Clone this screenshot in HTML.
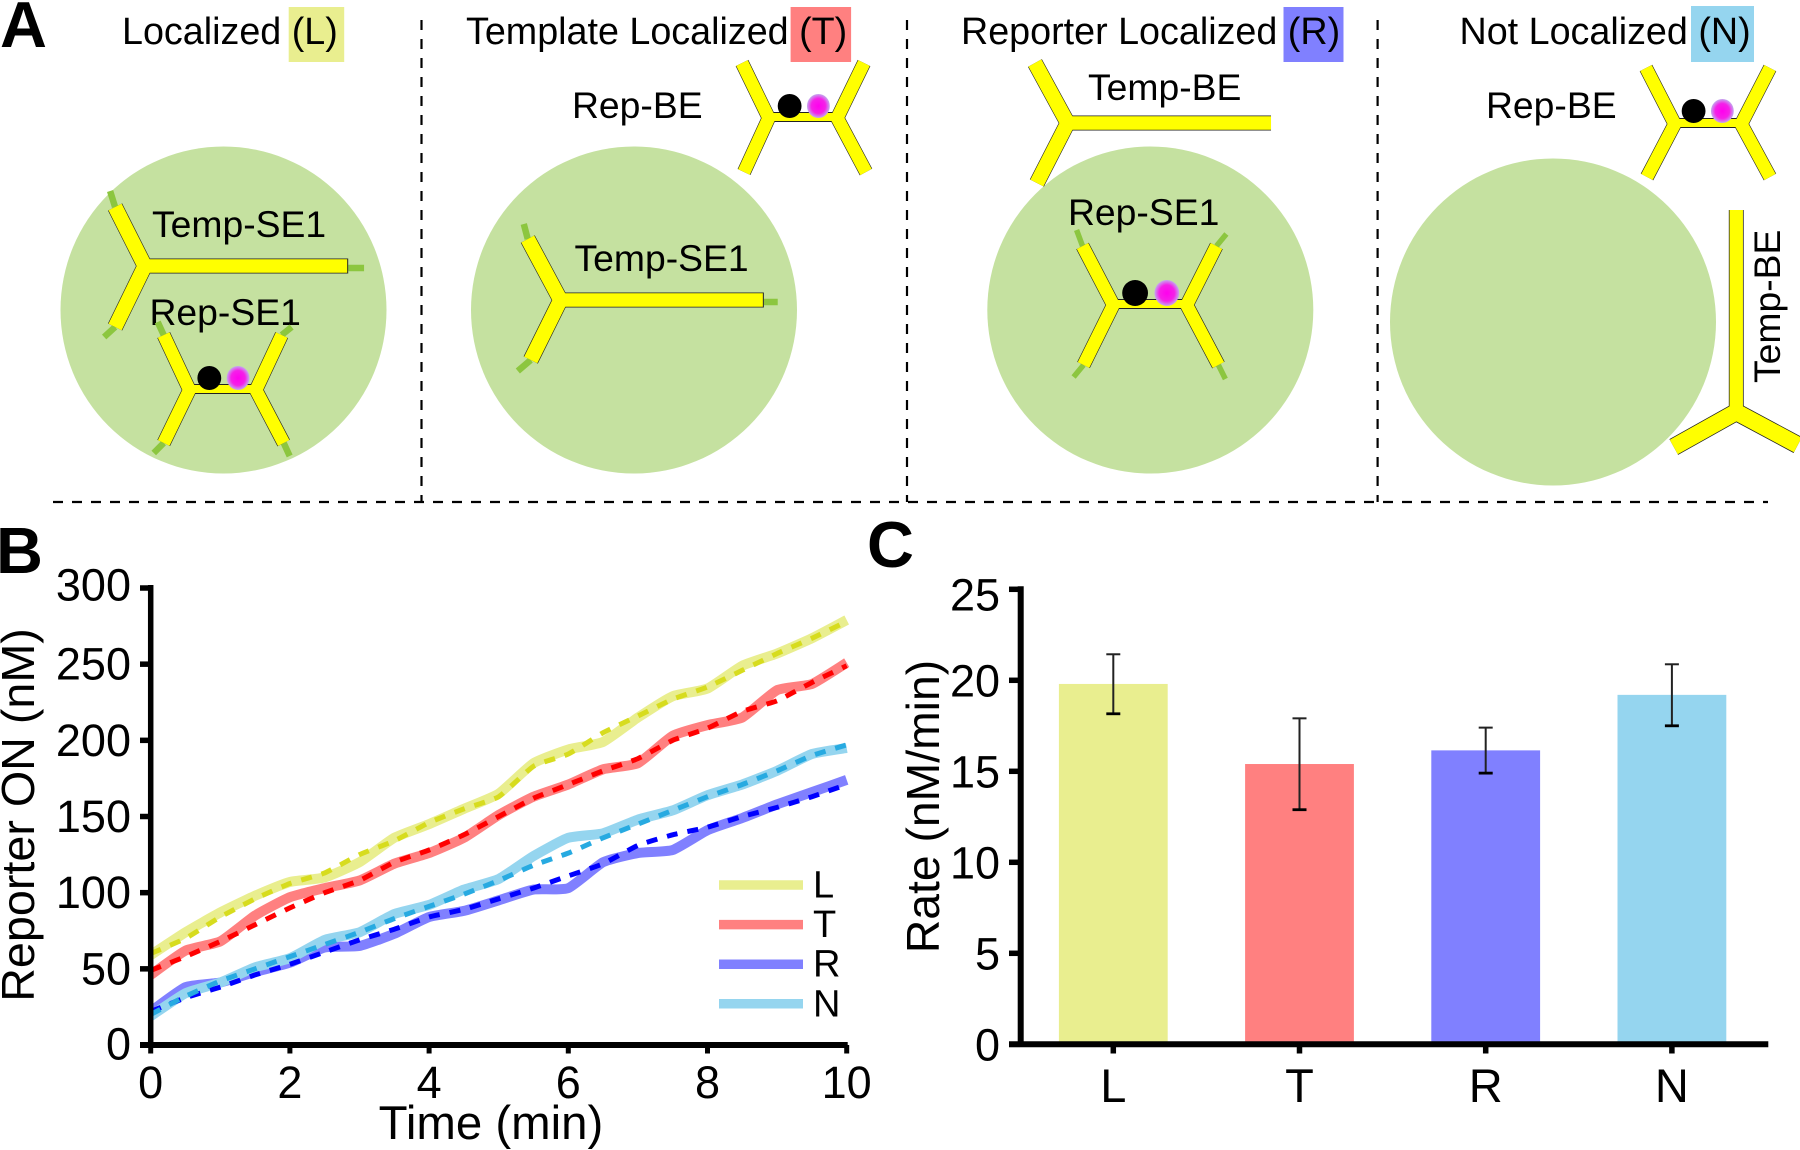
<!DOCTYPE html>
<html lang="en">
<head>
<meta charset="utf-8">
<title>Localization schematic and reporter kinetics</title>
<style>
  html,body{margin:0;padding:0;background:#fff;}
  svg{display:block;font-family:"Liberation Sans",Arial,sans-serif;}
  .lbl{font-size:37.3px;fill:#000;}
  .ttl{font-size:37.7px;fill:#000;}
  .panel{font-size:65px;font-weight:bold;fill:#000;}
  .tail{fill:none;stroke:#8cc63f;stroke-width:6.5;}
  .ol{fill:none;stroke:#222;stroke-linejoin:miter;stroke-miterlimit:4;}
  .yf{fill:none;stroke:#ffff00;stroke-linejoin:miter;stroke-miterlimit:4;}
  .w13{stroke-width:13.5;} .w15{stroke-width:15;}
  .a-o{stroke-width:16;} .a-f{stroke-width:14.8;}
  .w10{stroke-width:13;} .w12{stroke-width:14.2;}
  .bar-o{fill:none;stroke:#222;stroke-width:10;}
  .bar-f{fill:none;stroke:#ffff00;stroke-width:8;}
  .sep{stroke:#000;stroke-width:2.2;stroke-dasharray:10 9;fill:none;}
</style>
</head>
<body>
<svg id="fig" xmlns="http://www.w3.org/2000/svg" width="1800" height="1150" viewBox="0 0 1800 1150">
  <defs>
    <radialGradient id="mag"><stop offset="0" stop-color="#ff00ee"/><stop offset="0.62" stop-color="#f520e8"/><stop offset="1" stop-color="#c4a8ee"/></radialGradient>
  </defs>
  <rect width="1800" height="1150" fill="#fff"/>

  <g>
    <text class="panel" x="0" y="47">A</text>

    <line class="sep" x1="421.5" y1="20" x2="421.5" y2="502"/>
    <line class="sep" x1="907" y1="20" x2="907" y2="502"/>
    <line class="sep" x1="1377.6" y1="20" x2="1377.6" y2="502"/>
    <line class="sep" x1="53" y1="502" x2="1768" y2="502"/>

    <rect x="288.7" y="7" width="55.5" height="55" fill="#e9ee8f"/>
    <rect x="790.6" y="7" width="60.5" height="55" fill="#ff8080"/>
    <rect x="1283.5" y="7" width="60" height="55" fill="#8080ff"/>
    <rect x="1691" y="6" width="63" height="56" fill="#95d5ef"/>

    <text class="ttl" x="122" y="44">Localized (L)</text>
    <text class="ttl" x="466" y="44">Template Localized (T)</text>
    <text class="ttl" x="961" y="44">Reporter Localized (R)</text>
    <text class="ttl" x="1459.5" y="44">Not Localized (N)</text>

    <ellipse cx="223.5" cy="310" rx="163" ry="163.5" fill="#c5e1a0"/>
    <ellipse cx="634" cy="310" rx="163" ry="163.5" fill="#c5e1a0"/>
    <ellipse cx="1150.3" cy="310" rx="163" ry="163.5" fill="#c5e1a0"/>
    <ellipse cx="1553" cy="322" rx="163" ry="163.5" fill="#c5e1a0"/>

    <!-- Localized -->
    <g transform="matrix(.992 0 0 1 0 0)">
      <path class="tail" d="M116 207L111 191M116 327L105 337M351 268H367"/>
      <path class="ol w15" d="M146 266H351"/>
      <path class="ol a-o" d="M116 207L146 266L116 327"/>
      <path class="yf w13" d="M146 266H350"/>
      <path class="yf a-f" d="M116 207L146 266L116 327"/>
    </g>
    <text class="lbl" x="152" y="237">Temp-SE1</text>
    <text class="lbl" x="149.500" y="325">Rep-SE1</text>
    <g transform="matrix(.992 0 0 1 0 0)">
      <path class="tail" d="M165 335L159 322M165 443L155 453M284 335L294 327M286 443L292 456"/>
      <path class="bar-o" d="M191 389H258"/><path class="ol w12" d="M165 335L191 390L165 443M284 335L258 390L286 443"/>
      <path class="bar-f" d="M191 389H258"/><path class="yf w10" d="M165 335L191 390L165 443M284 335L258 390L286 443"/>
      <ellipse cx="240" cy="378" rx="11.5" ry="12" fill="url(#mag)"/>
      <ellipse cx="211" cy="378" rx="12" ry="12" fill="#000"/>
    </g>

    <!-- Template localized -->
    <g transform="matrix(.992 0 0 1 0 0)">
      <path class="tail" d="M532 239L528 224M535 360L522 371M770 302H784"/>
      <path class="ol w15" d="M565 300H770"/>
      <path class="ol a-o" d="M532 239L565 300L535 360"/>
      <path class="yf w13" d="M565 300H769"/>
      <path class="yf a-f" d="M532 239L565 300L535 360"/>
    </g>
    <text class="lbl" x="574.5" y="271">Temp-SE1</text>
    <text class="lbl" x="572" y="118">Rep-BE</text>
    <g transform="matrix(.992 0 0 1 -1 0)">
      <path class="bar-o" d="M776 117H845"/><path class="ol w12" d="M749 63L776 118L751 172M872 63L845 118L874 172"/>
      <path class="bar-f" d="M776 117H845"/><path class="yf w10" d="M749 63L776 118L751 172M872 63L845 118L874 172"/>
      <ellipse cx="826" cy="106" rx="11.5" ry="12" fill="url(#mag)"/>
      <ellipse cx="797" cy="106" rx="12" ry="12" fill="#000"/>
    </g>

    <!-- Reporter localized -->
    <g transform="matrix(.992 0 0 1 7.2 0)">
      <path class="ol w15" d="M1069 123H1274"/>
      <path class="ol a-o" d="M1036 63L1069 123L1038 183"/>
      <path class="yf w13" d="M1069 123H1274"/>
      <path class="yf a-f" d="M1036 63L1069 123L1038 183"/>
    </g>
    <text class="lbl" x="1088" y="100">Temp-BE</text>
    <text class="lbl" x="1068" y="225">Rep-SE1</text>
    <g transform="matrix(.992 0 0 1 7.2 0)">
      <path class="tail" style="stroke-width:5.5" d="M1084 246L1078 230M1219 246L1229 234M1085 365L1075 377M1221 365L1228 379"/>
      <path class="bar-o" d="M1115 304H1189"/><path class="ol w12" d="M1084 246L1115 305L1085 365M1219 246L1189 305L1221 365"/>
      <path class="bar-f" d="M1115 304H1189"/><path class="yf w10" d="M1084 246L1115 305L1085 365M1219 246L1189 305L1221 365"/>
      <ellipse cx="1169" cy="293" rx="12.5" ry="13" fill="url(#mag)"/>
      <ellipse cx="1137" cy="293" rx="13" ry="13" fill="#000"/>
    </g>

    <!-- Not localized -->
    <text class="lbl" x="1486" y="118">Rep-BE</text>
    <g transform="matrix(.992 0 0 1 7.2 0)">
      <path class="bar-o" d="M1681 123H1748"/><path class="ol w12" d="M1652 68L1681 124L1653 177M1777 68L1748 124L1777 177"/>
      <path class="bar-f" d="M1681 123H1748"/><path class="yf w10" d="M1652 68L1681 124L1653 177M1777 68L1748 124L1777 177"/>
      <ellipse cx="1729" cy="111" rx="11.5" ry="12" fill="url(#mag)"/>
      <ellipse cx="1700" cy="111" rx="12" ry="12" fill="#000"/>
    </g>
    <g transform="matrix(.992 0 0 1 7.2 0)">
      <path class="ol w15" d="M1743 210V412"/>
      <path class="ol" style="stroke-width:18" d="M1680 447L1743 412L1805 445"/>
      <path class="yf w13" d="M1743 210V412"/>
      <path class="yf" style="stroke-width:16.5" d="M1680 447L1743 412L1805 445"/>
    </g>
    <text class="lbl" transform="translate(1780 383) rotate(-90)">Temp-BE</text>
  </g>

  <text class="panel" x="-4" y="573">B</text>
  <text class="panel" x="867" y="567">C</text>
  <g id="chart-b"></g>
  <g id="chart-c"></g>
</svg>

<script>
// ---- Chart B data ----
var times = [0,0.5,1,1.5,2,2.5,3,3.5,4,4.5,5,5.5,6,6.5,7,7.5,8,8.5,9,9.5,10];
var measuredL = [59,74,87,98,107,110,120,136,145,155,165,185,194,199,215,229,234,249,257,267,279];
var measuredT = [46,62,68,85,97,103,108,119,126,136,151,163,171,181,185,203,210,215,233,237,251];
var measuredR = [22,38,41,48,54,64,65,73,84,88,95,102,103,120,126,128,141,149,158,166,174];
var measuredN = [19,34,41,51,57,69,74,86,92,102,109,124,136,139,148,154,164,171,180,191,195];
var fitL = [60,70,84,96,106,113,125,134,146,155,163,183,191,205,216,227,235,246,257,267,278];
var fitT = [49,58,68,79,90,100,108,120,128,138,150,162,171,180,188,200,208,219,226,238,249];
var fitR = [22,31,38,46,53,61,69,76,84,89,96,103,111,119,131,138,143,150,156,163,171];
var fitN = [20,32,42,50,58,66,74,83,91,99,108,118,126,136,145,154,163,171,180,190,197];
var seriesNames = ['L','T','R','N'];
var xTickValues = [0,2,4,6,8,10];
var yTickValues = [0,50,100,150,200,250,300];

// ---- Chart C data ----
var barCategories = ['L','T','R','N'];
var barValues = [19.8,15.4,16.15,19.2];
var barErrUpper = [21.43,17.91,17.4,20.88];
var barErrLower = [18.16,12.89,14.9,17.5];
var rateTickValues = [0,5,10,15,20,25];

var NS = 'http://www.w3.org/2000/svg';
var colorsLight = {L:'#e9ee8f',T:'#ff8080',R:'#8080ff',N:'#95d5ef'};
var colorsDark = {L:'#d7dc1e',T:'#ff0000',R:'#0000ff',N:'#27aae1'};
function make(parent, tag, attrs, text){
  var n = document.createElementNS(NS, tag);
  for (var k in attrs) n.setAttribute(k, attrs[k]);
  if (text !== undefined) n.textContent = text;
  parent.appendChild(n);
  return n;
}
function xB(t){ return 150.7 + 69.6 * t; }
function yB(v){ return 1045 - 1.5233 * v; }
function yC(v){ return 1044.3 - 18.2 * v; }
function xC(i){ return 1113.3 + 186.2 * i; }
function linePath(vals){
  var pts = times.map(function(t,i){ return [xB(t), yB(vals[i])]; });
  var d = 'M' + pts[0][0].toFixed(1) + ' ' + pts[0][1].toFixed(1);
  for (var i = 0; i < pts.length - 1; i++){
    var p0 = pts[Math.max(i-1,0)], p1 = pts[i], p2 = pts[i+1], p3 = pts[Math.min(i+2,pts.length-1)];
    var c1x = p1[0] + (p2[0]-p0[0])/12, c1y = p1[1] + (p2[1]-p0[1])/12;
    var c2x = p2[0] - (p3[0]-p1[0])/12, c2y = p2[1] - (p3[1]-p1[1])/12;
    d += 'C' + c1x.toFixed(1) + ' ' + c1y.toFixed(1) + ' ' + c2x.toFixed(1) + ' ' + c2y.toFixed(1) + ' ' + p2[0].toFixed(1) + ' ' + p2[1].toFixed(1);
  }
  return d;
}

var b = document.getElementById('chart-b');
var measured = {L:measuredL,T:measuredT,R:measuredR,N:measuredN};
var fits = {L:fitL,T:fitT,R:fitR,N:fitN};
seriesNames.forEach(function(s){
  var m = make(b,'path',{d:linePath(measured[s]),fill:'none',stroke:colorsLight[s],'stroke-width':10,'stroke-linejoin':'round'});
  
  
});
seriesNames.forEach(function(s){
  var f = make(b,'path',{d:linePath(fits[s]),fill:'none',stroke:colorsDark[s],'stroke-width':5,'stroke-dasharray':'11 10'});
  
  
});
var bYAxis = make(b,'line',{x1:150.7,y1:yB(300)-3,x2:150.7,y2:1048,stroke:'#000','stroke-width':5.5});


var bXAxis = make(b,'line',{x1:140,y1:1045,x2:xB(10)+1,y2:1045,stroke:'#000','stroke-width':6});


yTickValues.forEach(function(v){
  var t = make(b,'line',{x1:140,y1:yB(v),x2:150,y2:yB(v),stroke:'#000','stroke-width':5.5});
  
  
  var l = make(b,'text',{x:131,y:yB(v)+(v===300?12.5:v===0?14.5:15.5),'text-anchor':'end','font-size':45},String(v));
  
  
});
xTickValues.forEach(function(v){
  var t = make(b,'line',{x1:xB(v),y1:1045,x2:xB(v),y2:1053.5,stroke:'#000','stroke-width':5});
  
  
  var l = make(b,'text',{x:xB(v),y:1098,'text-anchor':'middle','font-size':45},String(v));
  
  
});
var bXT = make(b,'text',{x:491,y:1139,'text-anchor':'middle','font-size':47.4},'Time (min)');


var bYT = make(b,'text',{transform:'translate(34 815) rotate(-90)','text-anchor':'middle','font-size':46.7},'Reporter ON (nM)');


seriesNames.forEach(function(s,i){
  var row = 885 + 39.6 * i;
  var sw = make(b,'line',{x1:719,y1:row,x2:803,y2:row,stroke:colorsLight[s],'stroke-width':9.5});
  
  
  var tx = make(b,'text',{x:813,y:row+12.5,'font-size':38},s);
  
  
});

var c = document.getElementById('chart-c');
barCategories.forEach(function(s,i){
  var cx = xC(i);
  var r = make(c,'rect',{x:cx-54.4,y:yC(barValues[i]),width:108.8,height:yC(0)-yC(barValues[i]),fill:colorsLight[s]});
  
  
  var e = make(c,'line',{x1:cx,y1:yC(barErrUpper[i]),x2:cx,y2:yC(barErrLower[i]),stroke:'#222','stroke-width':2});
  
  
  var cu = make(c,'line',{x1:cx-7,y1:yC(barErrUpper[i]),x2:cx+7,y2:yC(barErrUpper[i]),stroke:'#222','stroke-width':2});
  
  
  var cl = make(c,'line',{x1:cx-7,y1:yC(barErrLower[i]),x2:cx+7,y2:yC(barErrLower[i]),stroke:'#000','stroke-width':2.8});
  
  
  var t = make(c,'line',{x1:cx,y1:1044,x2:cx,y2:1053.5,stroke:'#000','stroke-width':5.5});
  
  
  var l = make(c,'text',{x:cx,y:1102,'text-anchor':'middle','font-size':47},s);
  
  
});
var cYAxis = make(c,'line',{x1:1020.7,y1:yC(25)-3,x2:1020.7,y2:1047,stroke:'#000','stroke-width':6});


var cXAxis = make(c,'line',{x1:1009,y1:1044.3,x2:1768.3,y2:1044.3,stroke:'#000','stroke-width':6});


rateTickValues.forEach(function(v){
  var t = make(c,'line',{x1:1009,y1:yC(v),x2:1020,y2:yC(v),stroke:'#000','stroke-width':5.5});
  
  
  var l = make(c,'text',{x:1000,y:yC(v)+(v===25?21:16),'text-anchor':'end','font-size':45},String(v));
  
  
});
var cYT = make(c,'text',{transform:'translate(939 806.5) rotate(-90)','text-anchor':'middle','font-size':46.3},'Rate (nM/min)');


</script>
</body>
</html>
